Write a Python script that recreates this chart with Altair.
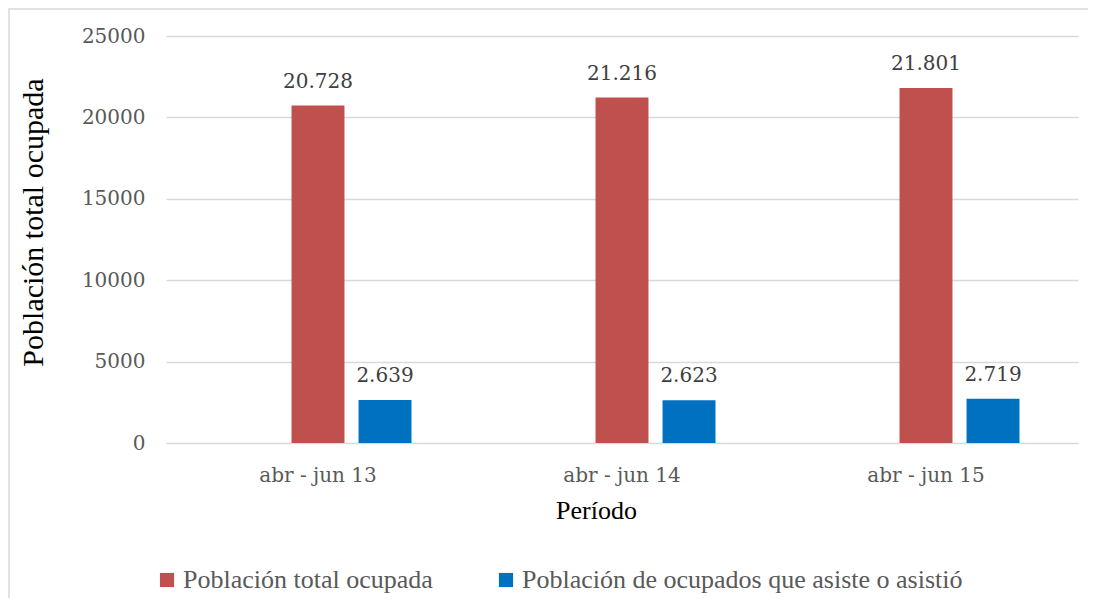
import altair as alt
import pandas as pd

categories = ["abr - jun 13", "abr - jun 14", "abr - jun 15"]
series_names = ["Población total ocupada", "Población de ocupados que asiste o asistió"]
total_ocupada = [20728, 21216, 21801]
asiste = [2639, 2623, 2719]
colors = ["#C0504D", "#0070C0"]
y_ticks = [0, 5000, 10000, 15000, 20000, 25000]

rows = []
for i, c in enumerate(categories):
    rows.append({"periodo": c, "serie": series_names[0], "valor": total_ocupada[i]})
    rows.append({"periodo": c, "serie": series_names[1], "valor": asiste[i]})
df = pd.DataFrame(rows)

offset_domain = [" ", series_names[0], series_names[1]]

x_enc = alt.X(
    "periodo:N",
    sort=categories,
    scale=alt.Scale(paddingInner=0, paddingOuter=0),
    axis=alt.Axis(
        title="Período",
        labelAngle=0,
        labelFont="DejaVu Serif",
        labelFontSize=20,
        labelColor="#595959",
        labelPadding=22,
        titleFont="Liberation Serif",
        titleFontSize=26,
        titleColor="#000000",
        titleFontWeight="normal",
        titlePadding=12,
        titleX=430,
        domain=False,
        ticks=False,
        grid=False,
    ),
)
xoff_enc = alt.XOffset(
    "serie:N",
    scale=alt.Scale(domain=offset_domain, paddingInner=0.21, paddingOuter=0.873),
)
y_enc = alt.Y(
    "valor:Q",
    scale=alt.Scale(domain=[0, 25000], nice=False),
    axis=alt.Axis(
        title="Población total ocupada",
        values=y_ticks,
        format="d",
        labelFont="DejaVu Serif",
        labelFontSize=20,
        labelColor="#595959",
        labelPadding=21,
        titleFont="Liberation Serif",
        titleFontSize=30,
        titleColor="#000000",
        titleFontWeight="normal",
        titleX=-133,
        titleY=186,
        titleBaseline="middle",
        domain=False,
        ticks=False,
        gridColor="#d9d9d9",
        gridWidth=1.5,
    ),
)

base = alt.Chart(df)

bars = base.mark_bar().encode(
    x=x_enc,
    xOffset=xoff_enc,
    y=y_enc,
    color=alt.Color(
        "serie:N",
        scale=alt.Scale(domain=series_names, range=colors),
        legend=alt.Legend(
            title=None,
            orient="none",
            legendX=-12,
            legendY=531,
            direction="horizontal",
            symbolType="square",
            symbolSize=200,
            symbolStrokeWidth=0,
            labelFont="Liberation Serif",
            labelFontSize=26,
            labelColor="#595959",
            labelLimit=700,
            columnPadding=60,
            labelOffset=3,
        ),
    ),
)

labels = base.transform_calculate(
    etiqueta="format(datum.valor / 1000, '.3f')"
).mark_text(
    font="DejaVu Serif", fontSize=20, color="#404040", baseline="bottom", dy=-14
).encode(
    x=alt.X("periodo:N", sort=categories),
    xOffset=alt.XOffset("serie:N"),
    y=alt.Y("valor:Q"),
    text="etiqueta:N",
)

border = alt.Chart(alt.Data(values=[{"k": 1}])).mark_rect(
    fill="white", fillOpacity=0, stroke="#d9d9d9", strokeWidth=1.5
).encode(
    x=alt.value(-157), x2=alt.value(945), y=alt.value(-27), y2=alt.value(600)
)

chart = alt.layer(border, bars, labels).properties(
    width=912,
    height=407,
    padding={"left": 158, "top": 28, "right": 10, "bottom": 155},
    autosize=alt.AutoSizeParams(type="none"),
    background="white",
).configure_view(stroke=None)

chart.save("out.html", embed_options={"renderer": "svg", "actions": False})
